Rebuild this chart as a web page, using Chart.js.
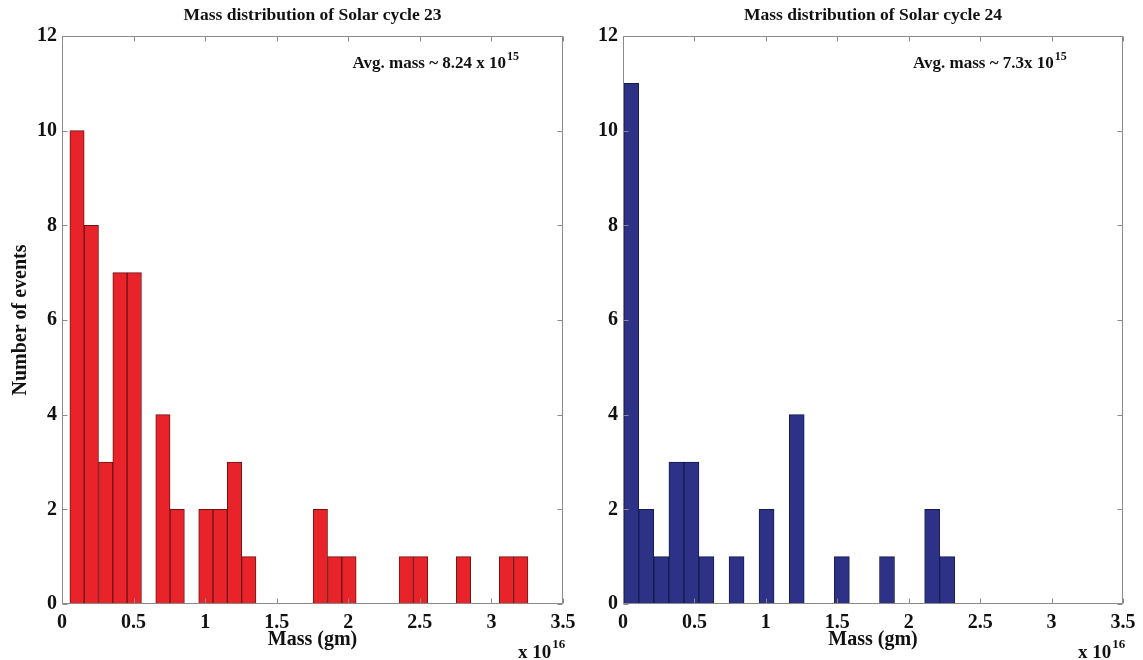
<!DOCTYPE html>
<html>
<head>
<meta charset="utf-8">
<script src="https://cdn.jsdelivr.net/npm/chart.js@4.4.1/dist/chart.umd.min.js"></script>
<style>
  html, body { margin: 0; padding: 0; background: #ffffff; }
  #wrap { position: relative; width: 1143px; height: 660px; overflow: hidden; }
  .panel { position: absolute; top: 0; height: 660px; }
  #p23 { left: 0; width: 580px; }
  #p24 { left: 580px; width: 563px; }
</style>
</head>
<body>
<div id="wrap">
  <div class="panel" id="p23"><canvas id="c23" width="580" height="660"></canvas></div>
  <div class="panel" id="p24"><canvas id="c24" width="563" height="660"></canvas></div>
</div>
<script>
// Histogram bin centres, in units of 1e16 gm
const massBins23 = [0.105, 0.205, 0.305, 0.405, 0.505, 0.605, 0.705, 0.805, 0.905, 1.005,
                    1.105, 1.205, 1.305, 1.405, 1.505, 1.605, 1.705, 1.805, 1.905, 2.005,
                    2.105, 2.205, 2.305, 2.405, 2.505, 2.605, 2.705, 2.805, 2.905, 3.005,
                    3.105, 3.205];
// Number of CME events per bin, Solar cycle 23
const counts23 = [10, 8, 3, 7, 7, 0, 4, 2, 0, 2,
                  2, 3, 1, 0, 0, 0, 0, 2, 1, 1,
                  0, 0, 0, 1, 1, 0, 0, 1, 0, 0,
                  1, 1];

const massBins24 = [0.058, 0.163, 0.269, 0.374, 0.479, 0.584, 0.690, 0.795, 0.900, 1.005,
                    1.111, 1.216, 1.321, 1.427, 1.532, 1.637, 1.742, 1.848, 1.953, 2.058,
                    2.164, 2.269];
// Number of CME events per bin, Solar cycle 24
const counts24 = [11, 2, 1, 3, 3, 1, 0, 1, 0, 2,
                  0, 4, 0, 0, 1, 0, 0, 1, 0, 0,
                  2, 1];

const xTickValues = [0, 0.5, 1, 1.5, 2, 2.5, 3, 3.5];
const xTickLabels = ['0', '0.5', '1', '1.5', '2', '2.5', '3', '3.5'];
const yTickValues = [0, 2, 4, 6, 8, 10, 12];

const titles = ['Mass distribution of Solar cycle 23', 'Mass distribution of Solar cycle 24'];
const avgMassText = ['Avg. mass ~ 8.24 x 10', 'Avg. mass ~ 7.3x 10'];
const avgMassExp = '15';
const xScaleText = 'x 10';
const xScaleExp = '16';

const SERIF = '"Liberation Serif", "Times New Roman", serif';

// Box round the plot area with short inward tick marks on all four sides
const framePlugin = {
  id: 'frame',
  afterDatasetsDraw(chart) {
    const { ctx, chartArea: a, scales: { x, y } } = chart;
    const L = 5;
    ctx.save();
    ctx.strokeStyle = '#8a8a8a';
    ctx.lineWidth = 1;
    ctx.beginPath();
    const l = Math.round(a.left) + 0.5, r = Math.round(a.right) - 0.5;
    const t = Math.round(a.top) + 0.5, b = Math.round(a.bottom) - 0.5;
    x.ticks.forEach(tk => {
      const px = Math.round(x.getPixelForValue(tk.value)) + 0.5;
      ctx.moveTo(px, b); ctx.lineTo(px, b - L);
      ctx.moveTo(px, t); ctx.lineTo(px, t + L);
    });
    y.ticks.forEach(tk => {
      const py = Math.round(y.getPixelForValue(tk.value)) + 0.5;
      ctx.moveTo(l, py); ctx.lineTo(l + L, py);
      ctx.moveTo(r, py); ctx.lineTo(r - L, py);
    });
    ctx.rect(l, t, r - l, b - t);
    ctx.stroke();
    ctx.restore();
  }
};

// Average-mass note inside the plot and the axis multiplier below it
const notesPlugin = {
  id: 'notes',
  afterDraw(chart, args, opts) {
    const { ctx, chartArea: a, scales: { x, y } } = chart;
    ctx.save();
    ctx.fillStyle = '#111';
    ctx.textBaseline = 'alphabetic';
    ctx.textAlign = 'left';

    const nx = x.getPixelForValue(opts.noteAt[0]);
    const ny = y.getPixelForValue(opts.noteAt[1]);
    ctx.font = 'bold 17px ' + SERIF;
    ctx.fillText(opts.note, nx, ny);
    const w = ctx.measureText(opts.note).width;
    ctx.font = 'bold 12px ' + SERIF;
    ctx.fillText(avgMassExp, nx + w + 1, ny - 8);

    ctx.font = 'bold 19px ' + SERIF;
    const ex = a.right - 45, ey = 658;
    ctx.fillText(xScaleText, ex, ey);
    const w2 = ctx.measureText(xScaleText).width;
    ctx.font = 'bold 13px ' + SERIF;
    ctx.fillText(xScaleExp, ex + w2 + 1, ey - 10);
    ctx.restore();
  }
};

function histogram(canvasId, bins, counts, cfg) {
  return new Chart(document.getElementById(canvasId), {
    type: 'bar',
    data: {
      datasets: [{
        data: bins.map((m, i) => ({ x: m, y: counts[i] })),
        backgroundColor: cfg.fill,
        borderColor: cfg.edge,
        borderWidth: 1,
        borderSkipped: false,
        barPercentage: 1,
        categoryPercentage: 1
      }]
    },
    options: {
      responsive: false,
      animation: false,
      events: [],
      layout: { padding: { left: 0, right: cfg.padRight, top: 0, bottom: 0 } },
      plugins: {
        legend: { display: false },
        tooltip: { enabled: false },
        title: {
          display: true,
          text: cfg.title,
          fullSize: false,
          color: '#111',
          font: { family: SERIF, size: 17.5, weight: 'bold' },
          padding: { top: 5, bottom: 10 }
        },
        notes: { note: cfg.note, noteAt: [2.03, 11.33] }
      },
      scales: {
        x: {
          type: 'linear',
          min: 0,
          max: 3.5,
          offset: false,
          grid: { display: false, drawTicks: false, offset: false },
          border: { display: false },
          afterBuildTicks: s => { s.ticks = xTickValues.map(v => ({ value: v })); },
          afterFit: s => { s.height = 56; s.paddingLeft = 0; s.paddingRight = 0; },
          ticks: {
            color: '#111',
            padding: 7,
            maxRotation: 0,
            autoSkip: false,
            callback: (v, i) => xTickLabels[i],
            font: { family: SERIF, size: 20, weight: 'bold' }
          },
          title: {
            display: true,
            text: 'Mass (gm)',
            color: '#111',
            font: { family: SERIF, size: 20, weight: 'bold' },
            padding: { top: 0, bottom: 8 }
          }
        },
        y: {
          min: 0,
          max: 12,
          grid: { display: false, drawTicks: false },
          border: { display: false },
          afterBuildTicks: s => { s.ticks = yTickValues.map(v => ({ value: v })); },
          afterFit: s => { s.width = cfg.yWidth; s.paddingTop = 0; s.paddingBottom = 0; },
          ticks: {
            color: '#111',
            padding: 5,
            font: { family: SERIF, size: 20, weight: 'bold' }
          },
          title: {
            display: cfg.showYTitle,
            text: 'Number of events',
            color: '#111',
            font: { family: SERIF, size: 20, weight: 'bold' },
            padding: { top: 9, bottom: 0 }
          }
        }
      }
    },
    plugins: [framePlugin, notesPlugin]
  });
}

histogram('c23', massBins23, counts23, {
  fill: '#e8232a', edge: '#6e1414', title: titles[0], note: avgMassText[0],
  padRight: 17, yWidth: 62, showYTitle: true
});
histogram('c24', massBins24, counts24, {
  fill: '#2d3287', edge: '#151a4d', title: titles[1], note: avgMassText[1],
  padRight: 20, yWidth: 43, showYTitle: false
});
</script>
</body>
</html>
